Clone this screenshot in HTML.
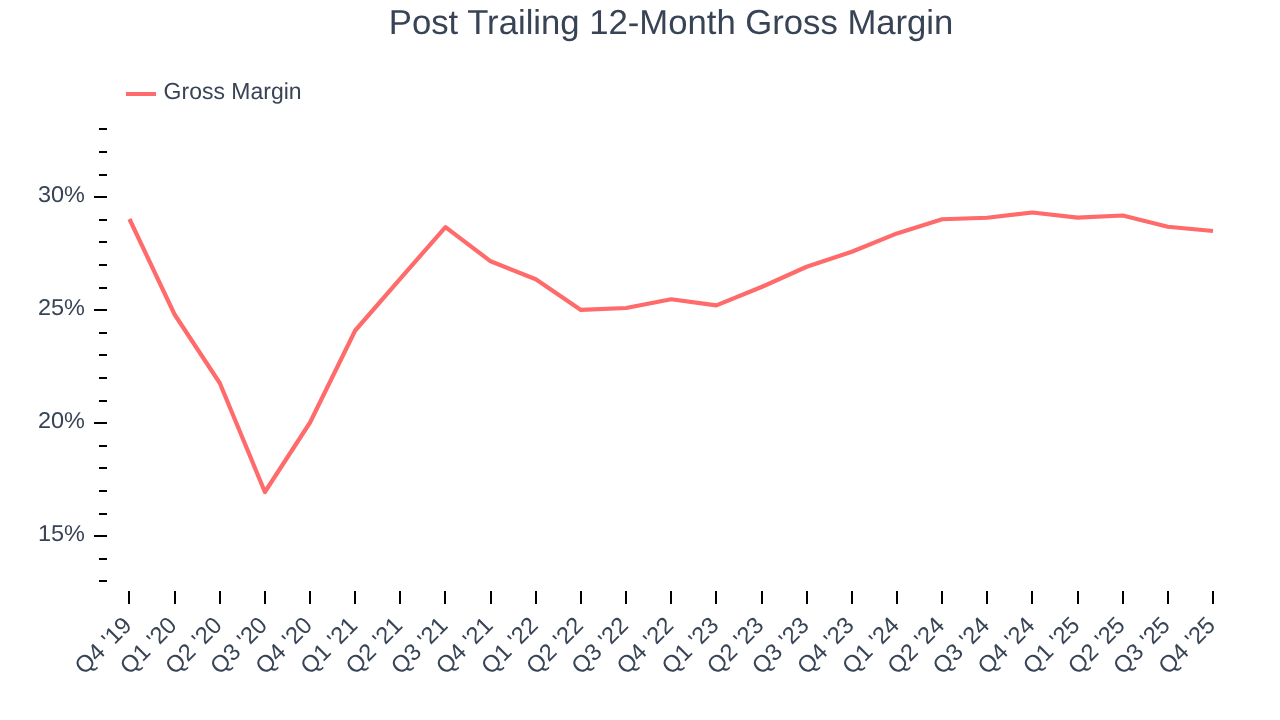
<!DOCTYPE html>
<html lang="en"><head><meta charset="utf-8"><title>Post Trailing 12-Month Gross Margin</title>
<style>html,body{margin:0;padding:0;background:#fff;}body{width:1280px;height:720px;overflow:hidden;}svg{display:block;}text{text-rendering:geometricPrecision;font-family:"Liberation Sans",Arial,Helvetica,sans-serif;fill:#384456;}</style></head><body>
<svg width="1280" height="720" viewBox="0 0 1280 720">
<rect width="1280" height="720" fill="#ffffff"/>
<text id="title" x="671.1" y="33.7" font-size="34.6" text-anchor="middle" textLength="564.5" lengthAdjust="spacingAndGlyphs">Post Trailing 12-Month Gross Margin</text>
<line x1="126" y1="94" x2="156" y2="94" stroke="#ff6a6a" stroke-width="4"/>
<text id="legend" x="163.6" y="99" font-size="23.2" textLength="138" lengthAdjust="spacingAndGlyphs">Gross Margin</text>
<g fill="#000" shape-rendering="crispEdges">
<rect x="99" y="580" width="8" height="2"/>
<rect x="99" y="558" width="8" height="2"/>
<rect x="94" y="535" width="13" height="2"/>
<rect x="99" y="513" width="8" height="2"/>
<rect x="99" y="490" width="8" height="2"/>
<rect x="99" y="467" width="8" height="2"/>
<rect x="99" y="445" width="8" height="2"/>
<rect x="94" y="422" width="13" height="2"/>
<rect x="99" y="400" width="8" height="2"/>
<rect x="99" y="377" width="8" height="2"/>
<rect x="99" y="354" width="8" height="2"/>
<rect x="99" y="332" width="8" height="2"/>
<rect x="94" y="309" width="13" height="2"/>
<rect x="99" y="287" width="8" height="2"/>
<rect x="99" y="264" width="8" height="2"/>
<rect x="99" y="241" width="8" height="2"/>
<rect x="99" y="219" width="8" height="2"/>
<rect x="94" y="196" width="13" height="2"/>
<rect x="99" y="174" width="8" height="2"/>
<rect x="99" y="151" width="8" height="2"/>
<rect x="99" y="128" width="8" height="2"/>
<rect x="128" y="591" width="2" height="13"/>
<rect x="174" y="591" width="2" height="13"/>
<rect x="219" y="591" width="2" height="13"/>
<rect x="264" y="591" width="2" height="13"/>
<rect x="309" y="591" width="2" height="13"/>
<rect x="354" y="591" width="2" height="13"/>
<rect x="399" y="591" width="2" height="13"/>
<rect x="444" y="591" width="2" height="13"/>
<rect x="490" y="591" width="2" height="13"/>
<rect x="535" y="591" width="2" height="13"/>
<rect x="580" y="591" width="2" height="13"/>
<rect x="625" y="591" width="2" height="13"/>
<rect x="670" y="591" width="2" height="13"/>
<rect x="715" y="591" width="2" height="13"/>
<rect x="761" y="591" width="2" height="13"/>
<rect x="806" y="591" width="2" height="13"/>
<rect x="851" y="591" width="2" height="13"/>
<rect x="896" y="591" width="2" height="13"/>
<rect x="941" y="591" width="2" height="13"/>
<rect x="986" y="591" width="2" height="13"/>
<rect x="1031" y="591" width="2" height="13"/>
<rect x="1077" y="591" width="2" height="13"/>
<rect x="1122" y="591" width="2" height="13"/>
<rect x="1167" y="591" width="2" height="13"/>
<rect x="1212" y="591" width="2" height="13"/>
</g>
<text class="yl" x="84.9" y="202.20" font-size="22.9" text-anchor="end" textLength="47.0" lengthAdjust="spacingAndGlyphs">30%</text>
<text class="yl" x="84.9" y="315.20" font-size="22.9" text-anchor="end" textLength="47.0" lengthAdjust="spacingAndGlyphs">25%</text>
<text class="yl" x="84.9" y="428.20" font-size="22.9" text-anchor="end" textLength="47.0" lengthAdjust="spacingAndGlyphs">20%</text>
<text class="yl" x="84.9" y="541.20" font-size="22.9" text-anchor="end" textLength="47.0" lengthAdjust="spacingAndGlyphs">15%</text>
<text class="xl" transform="translate(133.00,626.80) rotate(-45)" font-size="23.6" text-anchor="end">Q4 '19</text>
<text class="xl" transform="translate(178.15,626.80) rotate(-45)" font-size="23.6" text-anchor="end">Q1 '20</text>
<text class="xl" transform="translate(223.30,626.80) rotate(-45)" font-size="23.6" text-anchor="end">Q2 '20</text>
<text class="xl" transform="translate(268.44,626.80) rotate(-45)" font-size="23.6" text-anchor="end">Q3 '20</text>
<text class="xl" transform="translate(313.59,626.80) rotate(-45)" font-size="23.6" text-anchor="end">Q4 '20</text>
<text class="xl" transform="translate(358.74,626.80) rotate(-45)" font-size="23.6" text-anchor="end">Q1 '21</text>
<text class="xl" transform="translate(403.89,626.80) rotate(-45)" font-size="23.6" text-anchor="end">Q2 '21</text>
<text class="xl" transform="translate(449.04,626.80) rotate(-45)" font-size="23.6" text-anchor="end">Q3 '21</text>
<text class="xl" transform="translate(494.18,626.80) rotate(-45)" font-size="23.6" text-anchor="end">Q4 '21</text>
<text class="xl" transform="translate(539.33,626.80) rotate(-45)" font-size="23.6" text-anchor="end">Q1 '22</text>
<text class="xl" transform="translate(584.48,626.80) rotate(-45)" font-size="23.6" text-anchor="end">Q2 '22</text>
<text class="xl" transform="translate(629.63,626.80) rotate(-45)" font-size="23.6" text-anchor="end">Q3 '22</text>
<text class="xl" transform="translate(674.77,626.80) rotate(-45)" font-size="23.6" text-anchor="end">Q4 '22</text>
<text class="xl" transform="translate(719.92,626.80) rotate(-45)" font-size="23.6" text-anchor="end">Q1 '23</text>
<text class="xl" transform="translate(765.07,626.80) rotate(-45)" font-size="23.6" text-anchor="end">Q2 '23</text>
<text class="xl" transform="translate(810.22,626.80) rotate(-45)" font-size="23.6" text-anchor="end">Q3 '23</text>
<text class="xl" transform="translate(855.37,626.80) rotate(-45)" font-size="23.6" text-anchor="end">Q4 '23</text>
<text class="xl" transform="translate(900.51,626.80) rotate(-45)" font-size="23.6" text-anchor="end">Q1 '24</text>
<text class="xl" transform="translate(945.66,626.80) rotate(-45)" font-size="23.6" text-anchor="end">Q2 '24</text>
<text class="xl" transform="translate(990.81,626.80) rotate(-45)" font-size="23.6" text-anchor="end">Q3 '24</text>
<text class="xl" transform="translate(1035.96,626.80) rotate(-45)" font-size="23.6" text-anchor="end">Q4 '24</text>
<text class="xl" transform="translate(1081.11,626.80) rotate(-45)" font-size="23.6" text-anchor="end">Q1 '25</text>
<text class="xl" transform="translate(1126.25,626.80) rotate(-45)" font-size="23.6" text-anchor="end">Q2 '25</text>
<text class="xl" transform="translate(1171.40,626.80) rotate(-45)" font-size="23.6" text-anchor="end">Q3 '25</text>
<text class="xl" transform="translate(1216.55,626.80) rotate(-45)" font-size="23.6" text-anchor="end">Q4 '25</text>
<polyline points="129.45,219.00 174.60,314.50 219.75,383.00 264.89,492.00 310.04,422.50 355.19,330.50 400.34,278.60 445.49,227.10 490.63,261.30 535.78,279.25 580.93,309.90 626.08,308.00 671.22,299.25 716.37,305.40 761.52,287.00 806.67,266.75 851.82,251.75 896.96,233.40 942.11,219.25 987.26,217.75 1032.41,212.50 1077.56,217.60 1122.70,215.50 1167.85,226.75 1213.00,231.00" fill="none" stroke="#ff6a6a" stroke-width="4.2" stroke-linejoin="round" stroke-linecap="butt"/>
</svg></body></html>
